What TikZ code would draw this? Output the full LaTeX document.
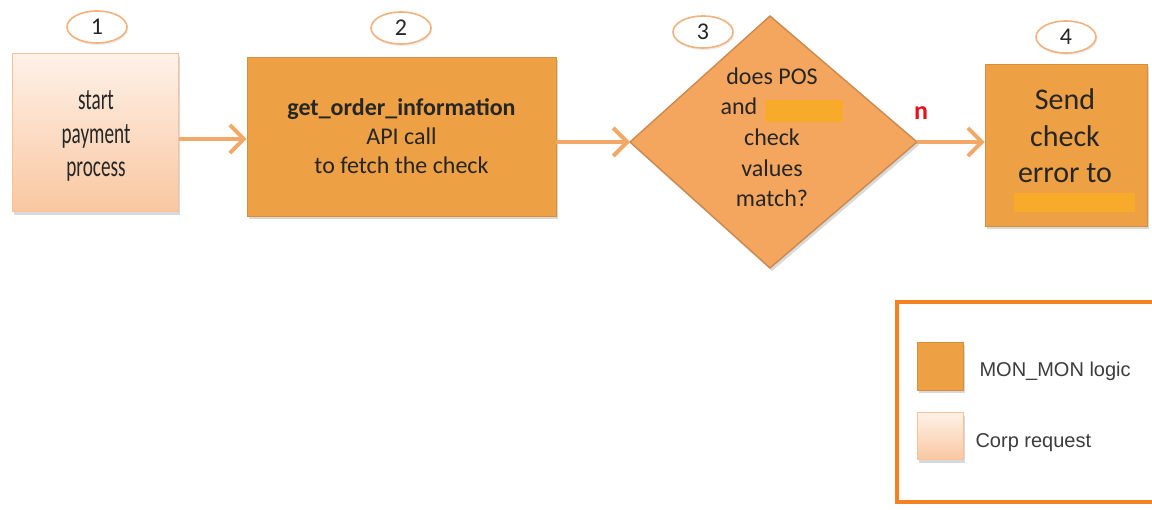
\documentclass[tikz,border=0pt]{standalone}
\usepackage{fontspec}
\setmainfont{Carlito}
\newfontfamily\condfont[FakeStretch=0.64]{Carlito}
\newfontfamily\legfont{Liberation Sans}
\usetikzlibrary{shapes.geometric,arrows.meta,shadows}
\definecolor{monorange}{HTML}{EDA044}
\definecolor{diamfill}{HTML}{F4A65E}
\definecolor{diamline}{HTML}{C98A4F}
\definecolor{corptop}{HTML}{FEF1E8}
\definecolor{corpbot}{HTML}{F9C7A0}
\definecolor{corpline}{HTML}{F6C29A}
\definecolor{arrowc}{HTML}{F2A866}
\definecolor{ellline}{HTML}{F1B27E}
\definecolor{legline}{HTML}{F58220}
\definecolor{redact}{HTML}{F8AA2A}
\definecolor{txt}{HTML}{262626}
\definecolor{nred}{HTML}{E8101A}
\tikzset{
  shad/.style={drop shadow={opacity=0.3,shadow xshift=2pt,shadow yshift=-3pt}},
  monbox/.style={draw=monorange!90!black,line width=0.6pt,fill=monorange,shad,inner sep=0pt,text=txt,align=center},
  corpbox/.style={draw=corpline,line width=1pt,top color=corptop,bottom color=corpbot,shad,inner sep=0pt,text=txt,align=center},
  numell/.style={ellipse,draw=ellline,line width=1.6pt,fill=white,minimum width=60pt,minimum height=32pt,inner sep=0pt,text=txt,font=\fontsize{24}{28}\selectfont,drop shadow={opacity=0.15,shadow xshift=1pt,shadow yshift=-2pt}},
  flow/.style={draw=arrowc,line width=4pt,-{Straight Barb[length=14pt,width=28pt,line width=4pt]}},
  redbar/.style={fill=redact,inner sep=0pt},
  dtext/.style={font=\fontsize{24}{30.5}\selectfont,text=txt,align=center},
}
\begin{document}
\begin{tikzpicture}[x=1pt,y=-1pt]
\useasboundingbox (0,0) rectangle (1152,510);
% box 1
\node[corpbox,minimum width=166pt,minimum height=158pt] (b1) at (95,133) {};
\node[font=\condfont\fontsize{30}{33.5}\selectfont,text=txt,align=center] (t1) at (96,136) {start\\payment\\process};
% box 2
\node[monbox,minimum width=309pt,minimum height=159pt,font=\fontsize{24}{29}\selectfont] (b2) at (401.5,136.5) {\textbf{get\_order\_information}\\API call\\to fetch the check};
% diamond
\coordinate (dT) at (770,16);
\coordinate (dR) at (917,142);
\coordinate (dB) at (770,268);
\coordinate (dL) at (630,142);
\draw[fill=diamfill,draw=diamline,line width=1.4pt,shad] (dT) -- (dR) -- (dB) -- (dL) -- cycle;
\node[dtext] (t3a) at (772,76) {does POS};
\node[dtext] (t3b) at (739,106) {and};
\node[dtext] (t3c) at (772,168) {check\\values\\match?};
\node[redbar,minimum width=78pt,minimum height=22pt] (r3) at (804,111) {};
% box 4
\node[monbox,minimum width=162pt,minimum height=162pt] (b4) at (1066,145) {};
\node[font=\fontsize{30}{36.5}\selectfont,text=txt,align=center] (t4) at (1065,136) {Send\\check\\error to};
\node[redbar,minimum width=121pt,minimum height=19pt] (r4) at (1074,203) {};
% number ellipses
\node[numell] (e1) at (97,27) {1};
\node[numell] (e2) at (401,28) {2};
\node[numell] (e3) at (703,32) {3};
\node[numell] (e4) at (1066,37) {4};
% arrows
\draw[flow] (b1.east |- 0,139) -- (b2.west |- 0,139);
\draw[flow] (b2.east |- 0,142) -- (dL);
\draw[flow] (dR) -- (b4.west |- 0,142);
\node[text=nred,font=\bfseries\fontsize{26}{30}\selectfont] (n) at (921,113) {n};
% legend
\draw[legline,line width=3.5pt,fill=white,drop shadow={opacity=0.25,shadow xshift=2pt,shadow yshift=-2pt}] (897,302) rectangle (1170,502);
\node[monbox,minimum width=46pt,minimum height=48pt] (s1) at (940,366) {};
\node[corpbox,minimum width=46pt,minimum height=47pt] (s2) at (940,436.5) {};
\node[anchor=west,font=\legfont\fontsize{20}{24}\selectfont,text=txt!90] (l1) at (976,371) {MON\_MON logic};
\node[anchor=west,font=\legfont\fontsize{20}{24}\selectfont,text=txt!90] (l2) at (972,443) {Corp request};
\end{tikzpicture}
\end{document}
